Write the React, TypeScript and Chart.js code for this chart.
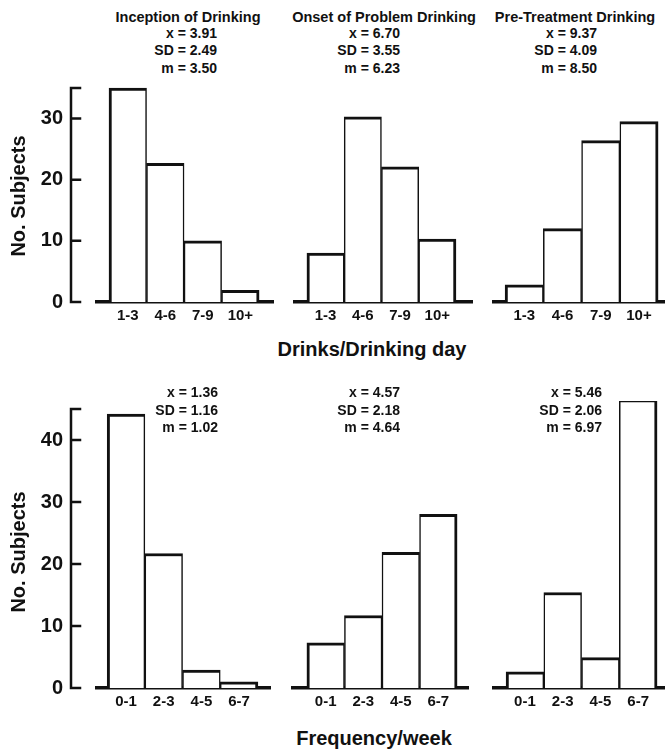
import React, { useEffect, useRef } from 'react';
import { Chart, registerables } from 'chart.js';
Chart.register(...registerables);

// ---- data ----
const drinkCategories = ['1-3', '4-6', '7-9', '10+'];
const freqCategories = ['0-1', '2-3', '4-5', '6-7'];

const inceptionDrinks = [35, 22.7, 10, 1.9];
const onsetDrinks = [8, 30.3, 22.1, 10.3];
const preTreatmentDrinks = [2.8, 12, 26.4, 29.5];

const inceptionFreq = [44.2, 21.7, 2.9, 1];
const onsetFreq = [7.3, 11.7, 21.9, 28];
const preTreatmentFreq = [2.6, 15.4, 4.9, 46.5];

const drinksYMax = 35;
const freqYMax = 45;
const yStep = 10;

const panelTitles = ['Inception of Drinking', 'Onset of Problem Drinking', 'Pre-Treatment Drinking'];
const drinksStats = [
  ['x = 3.91', 'SD = 2.49', 'm = 3.50'],
  ['x = 6.70', 'SD = 3.55', 'm = 6.23'],
  ['x = 9.37', 'SD = 4.09', 'm = 8.50'],
];
const freqStats = [
  ['x = 1.36', 'SD = 1.16', 'm = 1.02'],
  ['x = 4.57', 'SD = 2.18', 'm = 4.64'],
  ['x = 5.46', 'SD = 2.06', 'm = 6.97'],
];
const yTitle = 'No. Subjects';
const topXTitle = 'Drinks/Drinking day';
const bottomXTitle = 'Frequency/week';

// ---- styling ----
const FONT = "'Liberation Sans', Arial, Helvetica, sans-serif";
const INK = '#111';

const bracketPlugin = {
  id: 'bracketAxis',
  afterDraw(chart: any, _args: any, opts: any) {
    if (!opts || !opts.show) return;
    const y = chart.scales.y;
    const { ctx, chartArea } = chart;
    const x = chartArea.left - opts.gap;
    ctx.save();
    ctx.strokeStyle = INK;
    ctx.lineWidth = 2.5;
    ctx.lineCap = 'square';
    ctx.beginPath();
    const top = y.getPixelForValue(y.max);
    const bot = y.getPixelForValue(y.min);
    ctx.moveTo(x, top);
    ctx.lineTo(x, bot);
    const vals = y.ticks.map((t: any) => t.value).concat([y.max]);
    vals.forEach((v: number) => {
      const py = y.getPixelForValue(v);
      ctx.moveTo(x, py);
      ctx.lineTo(x + opts.tick, py);
    });
    ctx.stroke();
    ctx.restore();
  },
};

type PanelCfg = {
  values: number[];
  labels: string[];
  yMax: number;
  showY: boolean;
  left: number;
  top: number;
  w: number;
  h: number;
  pad: { left: number; right: number; top: number; bottom: number };
  xMin: number;
  xMax: number;
};

function Panel({ cfg }: { cfg: PanelCfg }) {
  const ref = useRef<HTMLCanvasElement>(null);
  useEffect(() => {
    const n = cfg.values.length;
    const chart = new Chart(ref.current as HTMLCanvasElement, {
      type: 'bar',
      data: {
        datasets: [
          {
            data: cfg.values.map((v, i) => ({ x: i, y: v })),
            backgroundColor: '#ffffff',
            borderColor: INK,
            borderWidth: (c: any) => ({
              top: 3,
              bottom: 0,
              left: c.dataIndex === 0 ? 3 : 1.5,
              right: c.dataIndex === n - 1 ? 3 : 1.5,
            }),
            borderSkipped: false,
            barPercentage: 1,
            categoryPercentage: 1,
            clip: false,
          } as any,
        ],
      },
      options: {
        responsive: false,
        animation: false,
        events: [],
        layout: { padding: cfg.pad },
        plugins: {
          legend: { display: false },
          tooltip: { enabled: false },
          bracketAxis: { show: cfg.showY, gap: 26, tick: 9 },
        } as any,
        scales: {
          x: {
            type: 'linear',
            min: cfg.xMin,
            max: cfg.xMax,
            offset: false,
            z: 1,
            afterBuildTicks: (s: any) => {
              s.ticks = cfg.labels.map((_, i) => ({ value: i }));
            },
            afterFit: (s: any) => {
              s.height = 24;
              s.paddingLeft = 0;
              s.paddingRight = 0;
            },
            grid: { display: false, drawTicks: false },
            border: { display: true, color: INK, width: 3.5 },
            ticks: {
              autoSkip: false,
              maxRotation: 0,
              padding: 5,
              color: INK,
              font: { family: FONT, size: 15, weight: 'bold' },
              callback: (_v: any, i: number) => cfg.labels[i],
            },
          },
          y: {
            type: 'linear',
            min: 0,
            max: cfg.yMax,
            display: cfg.showY,
            afterFit: (s: any) => {
              if (cfg.showY) s.width = 56;
              s.paddingTop = 0;
              s.paddingBottom = 0;
            },
            grid: { display: false, drawTicks: false },
            border: { display: false },
            ticks: {
              stepSize: yStep,
              includeBounds: false,
              padding: 34,
              color: INK,
              font: { family: FONT, size: 20, weight: 'bold' },
            },
          },
        },
      } as any,
      plugins: [bracketPlugin as any],
    });
    return () => chart.destroy();
  }, []);
  return (
    <canvas
      ref={ref}
      width={cfg.w}
      height={cfg.h}
      style={{ position: 'absolute', left: cfg.left, top: cfg.top, width: cfg.w, height: cfg.h }}
    />
  );
}

const topRow = { top: 80, h: 246 };
const botRow = { top: 401, h: 311 };

const panels: PanelCfg[] = [
  { values: inceptionDrinks, labels: drinkCategories, yMax: drinksYMax, showY: true, left: 0, top: topRow.top, w: 276, h: topRow.h, pad: { left: 41, right: 3, top: 8, bottom: 0 }, xMin: -0.82, xMax: 3.87 },
  { values: onsetDrinks, labels: drinkCategories, yMax: drinksYMax, showY: false, left: 285, top: topRow.top, w: 190, h: topRow.h, pad: { left: 10, right: 3, top: 8, bottom: 0 }, xMin: -0.82, xMax: 3.93 },
  { values: preTreatmentDrinks, labels: drinkCategories, yMax: drinksYMax, showY: false, left: 484, top: topRow.top, w: 181, h: topRow.h, pad: { left: 10, right: 0, top: 8, bottom: 0 }, xMin: -0.79, xMax: 3.68 },
  { values: inceptionFreq, labels: freqCategories, yMax: freqYMax, showY: true, left: 0, top: botRow.top, w: 273, h: botRow.h, pad: { left: 41, right: 3, top: 8, bottom: 0 }, xMin: -0.77, xMax: 3.82 },
  { values: onsetFreq, labels: freqCategories, yMax: freqYMax, showY: false, left: 283, top: botRow.top, w: 188, h: botRow.h, pad: { left: 10, right: 3, top: 8, bottom: 0 }, xMin: -0.87, xMax: 3.79 },
  { values: preTreatmentFreq, labels: freqCategories, yMax: freqYMax, showY: false, left: 484, top: botRow.top, w: 181, h: botRow.h, pad: { left: 10, right: 0, top: 8, bottom: 0 }, xMin: -0.82, xMax: 3.71 },
];

const textBase: React.CSSProperties = {
  position: 'absolute',
  fontFamily: FONT,
  fontWeight: 'bold',
  color: INK,
  whiteSpace: 'nowrap',
  lineHeight: 1,
};

function Centered({ x, y, size, text, rotate }: { x: number; y: number; size: number; text: string; rotate?: boolean }) {
  return (
    <div
      style={{
        ...textBase,
        left: x,
        top: y,
        fontSize: size,
        transform: `translate(-50%, -50%)${rotate ? ' rotate(-90deg)' : ''}`,
      }}
    >
      {text}
    </div>
  );
}

function Stats({ right, firstY, lines }: { right: number; firstY: number; lines: string[] }) {
  return (
    <div
      style={{
        ...textBase,
        left: right,
        top: firstY - 8.75,
        transform: 'translateX(-100%)',
        textAlign: 'right',
        fontSize: 14,
        lineHeight: '17.5px',
      }}
    >
      {lines.map((l, i) => (
        <div key={i}>{l}</div>
      ))}
    </div>
  );
}

const titleCenters = [188, 384, 575];
const topStatRights = [217, 400, 597];
const botStatRights = [218, 400, 602];

export default function App() {
  return (
    <div style={{ position: 'absolute', left: 0, top: 0, width: 665, height: 751, overflow: 'hidden', background: '#fff' }}>
      {panels.map((p, i) => (
        <Panel key={i} cfg={p} />
      ))}
      {panelTitles.map((t, i) => (
        <Centered key={'t' + i} x={titleCenters[i]} y={17} size={14.5} text={t} />
      ))}
      {drinksStats.map((s, i) => (
        <Stats key={'ds' + i} right={topStatRights[i]} firstY={33.3} lines={s} />
      ))}
      {freqStats.map((s, i) => (
        <Stats key={'fs' + i} right={botStatRights[i]} firstY={393} lines={s} />
      ))}
      <Centered x={18} y={196} size={20} text={yTitle} rotate />
      <Centered x={18} y={552} size={20} text={yTitle} rotate />
      <Centered x={372} y={349} size={20} text={topXTitle} />
      <Centered x={374} y={738} size={20} text={bottomXTitle} />
    </div>
  );
}
